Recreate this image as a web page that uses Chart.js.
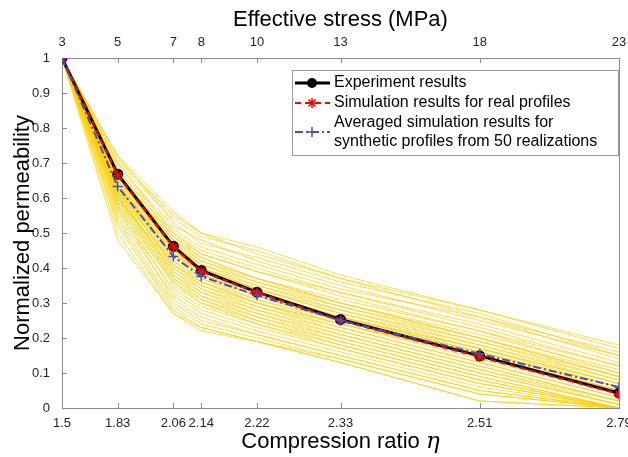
<!DOCTYPE html>
<html>
<head>
<meta charset="utf-8">
<script src="https://cdn.jsdelivr.net/npm/chart.js@4.4.1/dist/chart.umd.min.js"></script>
<style>
  html, body { margin: 0; padding: 0; background: #fff; }
  #wrap { width: 628px; height: 457px; }
</style>
</head>
<body>
<div id="wrap"><canvas id="permChart" width="628" height="457"></canvas></div>
<script>
const stress = [3, 5, 7, 8, 10, 13, 18, 23];
const ratioLabels = ['1.5', '1.83', '2.06', '2.14', '2.22', '2.33', '2.51', '2.79'];
const yTicks = [0, 0.1, 0.2, 0.3, 0.4, 0.5, 0.6, 0.7, 0.8, 0.9, 1];
const yTickLabels = ['0', '0.1', '0.2', '0.3', '0.4', '0.5', '0.6', '0.7', '0.8', '0.9', '1'];

const experiment = [1, 0.668, 0.462, 0.393, 0.331, 0.253, 0.149, 0.043];
const simulationReal = [1, 0.665, 0.460, 0.390, 0.330, 0.250, 0.146, 0.040];
const averagedSynthetic = [1, 0.633, 0.433, 0.376, 0.322, 0.250, 0.155, 0.060];

// 50 synthetic realizations, read off the yellow bundle
const realizations = [
  [1, 0.72, 0.56, 0.50, 0.46, 0.38, 0.28, 0.18],
  [1, 0.71, 0.55, 0.50, 0.44, 0.37, 0.28, 0.17],
  [1, 0.70, 0.54, 0.49, 0.45, 0.37, 0.26, 0.16],
  [1, 0.72, 0.53, 0.47, 0.43, 0.36, 0.27, 0.15],
  [1, 0.69, 0.52, 0.48, 0.42, 0.35, 0.25, 0.15],
  [1, 0.68, 0.51, 0.46, 0.41, 0.34, 0.26, 0.14],
  [1, 0.70, 0.50, 0.45, 0.40, 0.33, 0.23, 0.12],
  [1, 0.67, 0.50, 0.44, 0.39, 0.33, 0.24, 0.13],
  [1, 0.68, 0.49, 0.44, 0.39, 0.32, 0.22, 0.12],
  [1, 0.66, 0.48, 0.43, 0.37, 0.31, 0.22, 0.10],
  [1, 0.67, 0.48, 0.42, 0.37, 0.30, 0.21, 0.11],
  [1, 0.65, 0.47, 0.42, 0.36, 0.30, 0.20, 0.10],
  [1, 0.66, 0.47, 0.41, 0.36, 0.29, 0.20, 0.09],
  [1, 0.64, 0.46, 0.41, 0.35, 0.29, 0.19, 0.09],
  [1, 0.65, 0.46, 0.40, 0.35, 0.28, 0.19, 0.08],
  [1, 0.63, 0.45, 0.40, 0.34, 0.28, 0.18, 0.08],
  [1, 0.66, 0.45, 0.39, 0.34, 0.27, 0.18, 0.07],
  [1, 0.64, 0.44, 0.39, 0.33, 0.26, 0.17, 0.07],
  [1, 0.63, 0.44, 0.38, 0.33, 0.26, 0.17, 0.06],
  [1, 0.65, 0.43, 0.38, 0.32, 0.26, 0.16, 0.06],
  [1, 0.62, 0.43, 0.37, 0.32, 0.25, 0.16, 0.05],
  [1, 0.64, 0.42, 0.37, 0.31, 0.25, 0.15, 0.05],
  [1, 0.61, 0.42, 0.36, 0.31, 0.24, 0.15, 0.04],
  [1, 0.63, 0.41, 0.36, 0.30, 0.24, 0.14, 0.04],
  [1, 0.62, 0.41, 0.35, 0.30, 0.23, 0.13, 0.03],
  [1, 0.60, 0.40, 0.35, 0.29, 0.23, 0.13, 0.03],
  [1, 0.63, 0.40, 0.34, 0.29, 0.22, 0.12, 0.02],
  [1, 0.61, 0.39, 0.34, 0.28, 0.22, 0.12, 0.02],
  [1, 0.60, 0.39, 0.33, 0.28, 0.21, 0.11, 0.02],
  [1, 0.62, 0.38, 0.33, 0.27, 0.21, 0.11, 0.01],
  [1, 0.59, 0.38, 0.32, 0.27, 0.20, 0.10, 0.01],
  [1, 0.61, 0.37, 0.32, 0.26, 0.20, 0.10, 0.01],
  [1, 0.58, 0.37, 0.31, 0.26, 0.19, 0.09, 0.00],
  [1, 0.60, 0.36, 0.31, 0.25, 0.19, 0.09, 0.00],
  [1, 0.57, 0.36, 0.30, 0.25, 0.18, 0.08, 0.00],
  [1, 0.59, 0.35, 0.30, 0.24, 0.18, 0.08, 0.00],
  [1, 0.56, 0.34, 0.29, 0.24, 0.17, 0.07, 0.00],
  [1, 0.58, 0.33, 0.28, 0.23, 0.17, 0.07, 0.00],
  [1, 0.55, 0.32, 0.27, 0.22, 0.16, 0.06, 0.00],
  [1, 0.57, 0.31, 0.26, 0.21, 0.15, 0.05, 0.00],
  [1, 0.54, 0.30, 0.25, 0.21, 0.15, 0.05, 0.00],
  [1, 0.53, 0.29, 0.24, 0.20, 0.14, 0.04, 0.00],
  [1, 0.52, 0.28, 0.23, 0.19, 0.13, 0.02, 0.00],
  [1, 0.50, 0.27, 0.23, 0.19, 0.13, 0.02, 0.00],
  [1, 0.48, 0.27, 0.22, 0.19, 0.14, 0.04, 0.00],
  [1, 0.66, 0.49, 0.43, 0.37, 0.30, 0.20, 0.09],
  [1, 0.62, 0.44, 0.39, 0.33, 0.26, 0.16, 0.06],
  [1, 0.64, 0.45, 0.38, 0.32, 0.25, 0.15, 0.05],
  [1, 0.60, 0.41, 0.36, 0.30, 0.24, 0.15, 0.05],
  [1, 0.67, 0.47, 0.40, 0.34, 0.27, 0.17, 0.07]
];

const FONT = '"Liberation Sans", Arial, Helvetica, sans-serif';
const AXIS_GRAY = '#8c8c8c';
const TICK_TEXT = '#262626';
const BLUE = '#4b4fae';

Chart.defaults.font.family = FONT;

const toPoints = vals => stress.map((s, i) => ({ x: s, y: vals[i] }));

// MATLAB-style inward tick marks plus the closing box on the right
const inwardTicks = {
  id: 'inwardTicks',
  beforeDatasetsDraw(chart) {
    const { ctx, chartArea: a, scales } = chart;
    const len = 5;
    ctx.save();
    ctx.strokeStyle = AXIS_GRAY;
    ctx.lineWidth = 1;
    ctx.beginPath();
    stress.forEach(v => {
      const px = Math.round(scales.x.getPixelForValue(v)) + 0.5;
      ctx.moveTo(px, a.bottom);
      ctx.lineTo(px, a.bottom - len);
      ctx.moveTo(px, a.top);
      ctx.lineTo(px, a.top + len);
    });
    yTicks.forEach(v => {
      const py = Math.round(scales.y.getPixelForValue(v)) + 0.5;
      ctx.moveTo(a.left, py);
      ctx.lineTo(a.left + len, py);
    });
    ctx.moveTo(Math.round(a.right) + 0.5, a.top);
    ctx.lineTo(Math.round(a.right) + 0.5, a.bottom);
    ctx.stroke();
    ctx.restore();
  }
};

// bottom axis title with an italic serif eta
const etaTitle = {
  id: 'etaTitle',
  afterDraw(chart) {
    const { ctx, chartArea: a } = chart;
    const main = 'Compression ratio ';
    const eta = 'η';
    ctx.save();
    ctx.fillStyle = '#000';
    ctx.textBaseline = 'alphabetic';
    ctx.textAlign = 'left';
    const sansFont = '22px ' + FONT;
    const serifFont = 'italic 23px "DejaVu Serif", "Liberation Serif", serif';
    ctx.font = sansFont;
    const w1 = ctx.measureText(main).width;
    ctx.font = serifFont;
    const w2 = ctx.measureText(eta).width;
    const x = (a.left + a.right) / 2 - (w1 + w2) / 2;
    const y = a.bottom + 40;
    ctx.font = sansFont;
    ctx.fillText(main, x, y);
    ctx.font = serifFont;
    ctx.fillText(eta, x + w1, y);
    ctx.restore();
  }
};

// boxed legend with a two-line third entry
const boxLegend = {
  id: 'boxLegend',
  afterDraw(chart) {
    const { ctx, chartArea: a } = chart;
    const x0 = a.right - 327, y0 = a.top + 12, w = 326, h = 85;
    ctx.save();
    ctx.fillStyle = '#fff';
    ctx.fillRect(x0, y0, w, h);
    ctx.strokeStyle = '#9a9a9a';
    ctx.lineWidth = 1;
    ctx.strokeRect(x0 + 0.5, y0 + 0.5, w, h);

    const sx0 = x0 + 3, sx1 = x0 + 38, mx = x0 + 20, tx = x0 + 42;
    const rows = [y0 + 13, y0 + 33, y0 + 62];

    // experiment
    ctx.strokeStyle = '#000';
    ctx.lineWidth = 3;
    ctx.beginPath(); ctx.moveTo(sx0, rows[0]); ctx.lineTo(sx1, rows[0]); ctx.stroke();
    ctx.fillStyle = '#000';
    ctx.beginPath(); ctx.arc(mx, rows[0], 5, 0, Math.PI * 2); ctx.fill();

    // simulation real profiles
    ctx.strokeStyle = '#ff0000';
    ctx.lineWidth = 2;
    ctx.setLineDash([6, 4]);
    ctx.beginPath(); ctx.moveTo(sx0, rows[1]); ctx.lineTo(sx1, rows[1]); ctx.stroke();
    ctx.setLineDash([]);
    ctx.lineWidth = 1.5;
    ctx.beginPath();
    for (let k = 0; k < 4; k++) {
      const t = k * Math.PI / 4;
      ctx.moveTo(mx - 5 * Math.cos(t), rows[1] - 5 * Math.sin(t));
      ctx.lineTo(mx + 5 * Math.cos(t), rows[1] + 5 * Math.sin(t));
    }
    ctx.stroke();

    // averaged synthetic
    ctx.strokeStyle = BLUE;
    ctx.lineWidth = 2;
    ctx.setLineDash([8, 3, 2, 3]);
    ctx.beginPath(); ctx.moveTo(sx0, rows[2]); ctx.lineTo(sx1, rows[2]); ctx.stroke();
    ctx.setLineDash([]);
    ctx.lineWidth = 1.5;
    ctx.beginPath();
    ctx.moveTo(mx - 5, rows[2]); ctx.lineTo(mx + 5, rows[2]);
    ctx.moveTo(mx, rows[2] - 5); ctx.lineTo(mx, rows[2] + 5);
    ctx.stroke();

    ctx.fillStyle = '#000';
    ctx.font = '16px ' + FONT;
    ctx.textBaseline = 'middle';
    ctx.textAlign = 'left';
    ctx.fillText('Experiment results', tx, rows[0]);
    ctx.fillText('Simulation results for real profiles', tx, rows[1]);
    ctx.fillText('Averaged simulation results for', tx, rows[2] - 9);
    ctx.fillText('synthetic profiles from 50 realizations', tx, rows[2] + 10);
    ctx.restore();
  }
};

const yellowSets = realizations.map((r, i) => ({
  label: 'Realization ' + (i + 1),
  data: toPoints(r),
  borderColor: 'rgba(252, 206, 0, 0.7)',
  borderWidth: 1,
  pointRadius: 0,
  order: 10
}));

const ctx = document.getElementById('permChart').getContext('2d');

new Chart(ctx, {
  type: 'line',
  data: {
    datasets: [
      {
        label: 'Experiment results',
        data: toPoints(experiment),
        borderColor: '#000',
        backgroundColor: '#000',
        borderWidth: 3,
        pointStyle: 'circle',
        pointRadius: 5.5,
        pointBorderWidth: 0,
        order: 3
      },
      {
        label: 'Simulation results for real profiles',
        data: toPoints(simulationReal),
        borderColor: '#ff0000',
        backgroundColor: '#ff0000',
        borderWidth: 2,
        borderDash: [6, 4],
        pointStyle: 'star',
        pointRadius: 5,
        pointBorderWidth: 1.5,
        order: 2
      },
      {
        label: 'Averaged simulation results for synthetic profiles from 50 realizations',
        data: toPoints(averagedSynthetic),
        borderColor: BLUE,
        backgroundColor: BLUE,
        borderWidth: 2,
        borderDash: [8, 3, 2, 3],
        pointStyle: 'cross',
        pointRadius: 5,
        pointBorderWidth: 1.5,
        order: 1
      },
      ...yellowSets
    ]
  },
  options: {
    responsive: false,
    animation: false,
    layout: { padding: { left: 0, right: 9, top: 0, bottom: 0 } },
    plugins: {
      legend: { display: false },
      tooltip: { enabled: false }
    },
    scales: {
      x: {
        type: 'linear',
        position: 'bottom',
        min: 3,
        max: 23,
        afterBuildTicks: s => { s.ticks = stress.map(v => ({ value: v })); },
        afterFit: s => { s.height = 49; s.paddingLeft = 0; s.paddingRight = 0; },
        ticks: {
          autoSkip: false,
          maxRotation: 0,
          padding: 0,
          color: TICK_TEXT,
          font: { size: 13 },
          callback: v => ratioLabels[stress.indexOf(v)]
        },
        grid: { display: false },
        border: { display: true, color: AXIS_GRAY },
        title: { display: false }
      },
      x2: {
        type: 'linear',
        position: 'top',
        min: 3,
        max: 23,
        afterBuildTicks: s => { s.ticks = stress.map(v => ({ value: v })); },
        afterFit: s => { s.height = 58; s.paddingLeft = 0; s.paddingRight = 0; },
        ticks: {
          autoSkip: false,
          maxRotation: 0,
          padding: 0,
          color: TICK_TEXT,
          font: { size: 13 },
          callback: v => String(v)
        },
        grid: { display: false },
        border: { display: true, color: AXIS_GRAY },
        title: {
          display: true,
          text: 'Effective stress (MPa)',
          color: '#000',
          font: { size: 22 },
          padding: { top: 7, bottom: 0 }
        }
      },
      y: {
        type: 'linear',
        min: 0,
        max: 1,
        afterBuildTicks: s => { s.ticks = yTicks.map(v => ({ value: v })); },
        afterFit: s => { s.width = 62; },
        ticks: {
          padding: 4,
          color: TICK_TEXT,
          font: { size: 13 },
          callback: (v, i) => yTickLabels[i]
        },
        grid: { display: false },
        border: { display: true, color: AXIS_GRAY },
        title: {
          display: true,
          text: 'Normalized permeability',
          color: '#000',
          font: { size: 22 },
          padding: { top: 10, bottom: 0 }
        }
      }
    }
  },
  plugins: [inwardTicks, etaTitle, boxLegend]
});
</script>
</body>
</html>
